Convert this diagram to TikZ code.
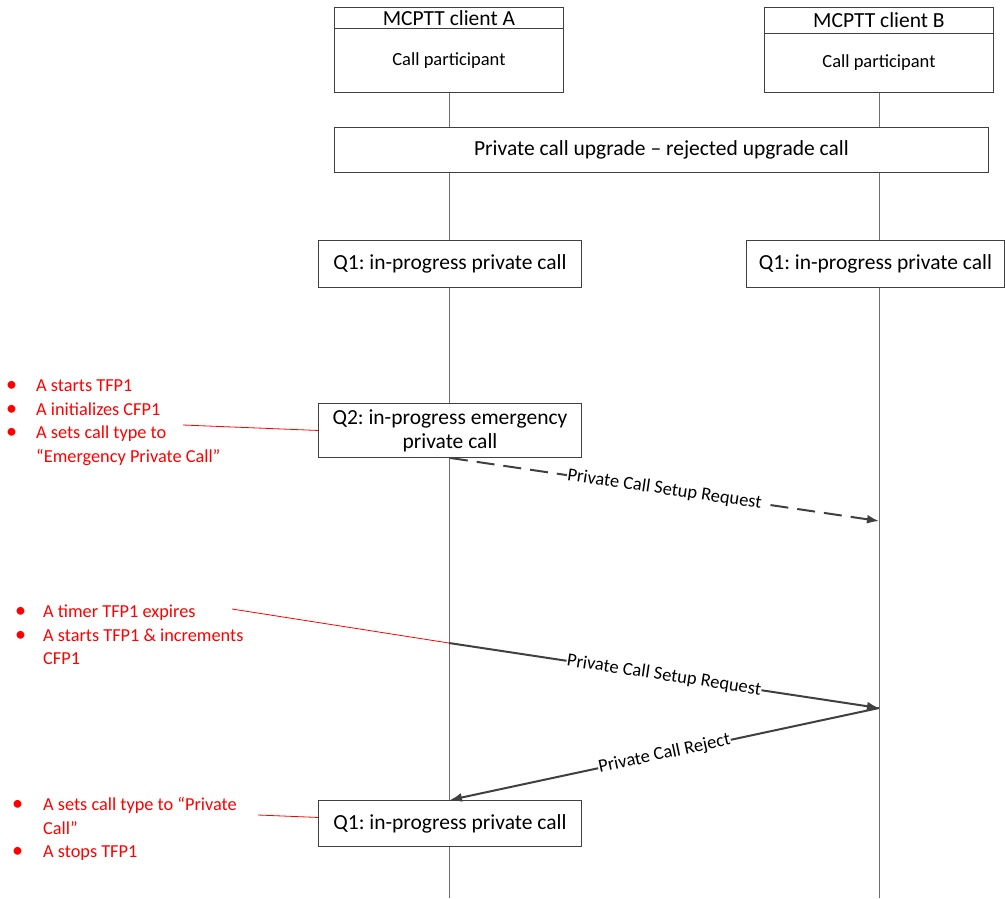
\documentclass[tikz,border=0pt]{standalone}
\usepackage{fontspec}
\setmainfont{Carlito}
\usetikzlibrary{arrows.meta}
\frenchspacing
\definecolor{linegray}{RGB}{64,64,64}
\definecolor{lifegray}{RGB}{110,110,110}
\definecolor{notered}{RGB}{255,0,0}
\newcommand{\dotmark}{{\fontsize{22}{22}\selectfont •}}
\tikzset{
  box/.style={draw=linegray, line width=0.9pt, fill=white, inner sep=0pt, anchor=north west, align=center},
  big/.style={font=\fontsize{21.5}{24}\selectfont},
  small/.style={font=\fontsize{18.5}{22}\selectfont},
  lifeline/.style={draw=lifegray, line width=0.9pt},
  msg/.style={draw=linegray, line width=2pt, -{Latex[length=12pt,width=9pt]}},
  msgdash/.style={msg, dash pattern=on 18pt off 9pt},
  msglabel/.style={sloped, fill=white, inner sep=0.5pt, font=\fontsize{18.5}{20}\selectfont, text=black},
  note/.style={text=notered, inner sep=0pt, anchor=north west, font=\fontsize{18.3}{23.5}\selectfont},
  notelink/.style={draw=notered, line width=0.8pt},
}
\begin{document}
\begin{tikzpicture}[x=1pt, y=-1pt]
\useasboundingbox (0,0) rectangle (1005,898);
\fill[white] (0,0) rectangle (1005,898);

% lifelines of the two clients
\coordinate (la top) at (449,92);
\coordinate (la bot) at (449,898);
\coordinate (lb top) at (879,92);
\coordinate (lb bot) at (879,898);
\draw[lifeline] (la top) -- (la bot);
\draw[lifeline] (lb top) -- (lb bot);

% client headers
\node[box, big, minimum width=229, minimum height=21] (ha) at (334,7) {MCPTT client A};
\node[box, small, minimum width=229, minimum height=64] (pa) at (334,28) {Call participant};
\node[box, big, minimum width=229, minimum height=26] (hb) at (764,7) {MCPTT client B};
\node[box, small, minimum width=229, minimum height=59] (pb) at (764,33) {Call participant};

% procedure banner
\node[box, big, minimum width=654, minimum height=45] (proc) at (334,127) {Private call upgrade -- rejected upgrade call};

% states
\node[box, big, minimum width=263, minimum height=47] (qa1) at (318,240) {Q1: in-progress private call};
\node[box, big, minimum width=258, minimum height=47] (qb1) at (746,240) {Q1: in-progress private call};
\node[box, big, minimum width=263, minimum height=54] (qa2) at (318,403) {Q2: in-progress emergency\\private call};
\node[box, big, minimum width=263, minimum height=46] (qa3) at (318,800) {Q1: in-progress private call};

% message end points on the lifelines
\coordinate (b1) at (879,521);
\coordinate (a2) at (449,643);
\coordinate (b2) at (879,708);

% messages
\draw[msgdash] (qa2.south) -- node[msglabel] {Private Call Setup Request} (b1);
\draw[msg] (a2) -- node[msglabel] {Private Call Setup Request} (b2);
\draw[msg] (b2) -- node[msglabel] {Private Call Reject} (qa3.north);

% notes on client A
\node[note] (n1) at (6,375) {\begin{tabular}{@{}p{30pt}@{}l@{}}
\dotmark& A starts TFP1\\
\dotmark& A initializes CFP1\\
\dotmark& A sets call type to\\
 & “Emergency Private Call”
\end{tabular}};
\node[note] (n2) at (15,601) {\begin{tabular}{@{}p{28pt}@{}l@{}}
\dotmark& A timer TFP1 expires\\
\dotmark& A starts TFP1 \& increments\\
 & CFP1
\end{tabular}};
\node[note] (n3) at (12,794) {\begin{tabular}{@{}p{31pt}@{}l@{}}
\dotmark& A sets call type to “Private\\
 & Call”\\
\dotmark& A stops TFP1
\end{tabular}};

% links from the notes
\coordinate (c1) at (183,425);
\coordinate (c2) at (232,609);
\coordinate (c3) at (258,815);
\draw[notelink] (c1) -- (qa2.west);
\draw[notelink] (c2) -- (a2);
\draw[notelink] (c3) -- ([yshift=6]qa3.west);
\end{tikzpicture}
\end{document}
